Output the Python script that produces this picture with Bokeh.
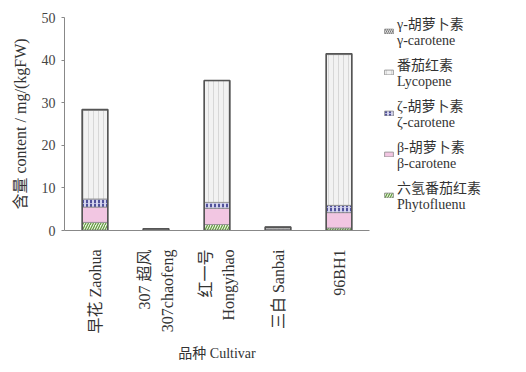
import math
from bokeh.plotting import figure
from bokeh.models import ColumnDataSource, FactorRange, Legend, LegendItem
from bokeh.transform import stack
from bokeh.embed import file_html
from bokeh.resources import INLINE

cultivars = ["早花 Zaohua", "307 超风\n307chaofeng", "红一号\nHongyihao", "三白 Sanbai", "96BH1"]
phytofluene = [1.9, 0.05, 1.4, 0.1, 0.6]
beta_carotene = [3.6, 0.05, 3.8, 0.2, 3.6]
zeta_carotene = [1.9, 0.05, 1.4, 0.1, 1.7]
lycopene = [20.8, 0.25, 28.6, 0.4, 35.4]
gamma_carotene = [0.2, 0.0, 0.0, 0.0, 0.2]
y_ticks = [0, 10, 20, 30, 40, 50]

series = ["phyto", "beta", "zeta", "lyco", "gamma"]
labels = {
    "gamma": "γ-胡萝卜素\nγ-carotene",
    "lyco": "番茄红素\nLycopene",
    "zeta": "ζ-胡萝卜素\nζ-carotene",
    "beta": "β-胡萝卜素\nβ-carotene",
    "phyto": "六氢番茄红素\nPhytofluenu",
}
styles = {
    "phyto": dict(fill_color="#eef4e4", hatch_pattern="/", hatch_color="#5f9a3c", hatch_scale=5, hatch_weight=1.2),
    "beta": dict(fill_color="#f2c6e2", hatch_pattern=" ", hatch_color="#f2c6e2"),
    "zeta": dict(fill_color="#d4d4ee", hatch_pattern=":", hatch_color="#26267e", hatch_scale=4, hatch_weight=1.5),
    "lyco": dict(fill_color="#f2f2f2", hatch_pattern="|", hatch_color="#c4c4c4", hatch_scale=5, hatch_weight=0.6),
    "gamma": dict(fill_color="#e6e6e6", hatch_pattern="\\", hatch_color="#777777", hatch_scale=4, hatch_weight=1),
}

totals = [a + b + c + d + e for a, b, c, d, e in zip(phytofluene, beta_carotene, zeta_carotene, lycopene, gamma_carotene)]
source = ColumnDataSource(dict(x=cultivars, phyto=phytofluene, beta=beta_carotene, zeta=zeta_carotene,
                               lyco=lycopene, gamma=gamma_carotene, total=totals))

FONT = "'Liberation Serif', 'Noto Sans CJK SC'"

p = figure(frame_width=305, frame_height=213, x_range=FactorRange(*cultivars, range_padding=0), y_range=(0, 50),
           output_backend="svg", toolbar_location=None,
           min_border_left=64, min_border_right=0, min_border_top=17, min_border_bottom=126)
p.outline_line_color = None
p.xgrid.visible = False
p.ygrid.visible = False

renderers = {}
for i, s in enumerate(series):
    r = p.vbar(x="x", bottom=stack(*series[:i]), top=stack(*series[:i + 1]), width=0.42, source=source,
               line_color="#8a8a8a", line_width=0.8, **styles[s])
    renderers[s] = r

p.vbar(x="x", bottom=0, top="total", width=0.42, source=source, fill_alpha=0,
       line_color="#555555", line_width=1.6)

legend = Legend(items=[LegendItem(label=labels[s], renderers=[renderers[s]]) for s in ["gamma", "lyco", "zeta", "beta", "phyto"]],
                location=(14, 15), padding=0, margin=0, spacing=0,
                border_line_color=None, background_fill_alpha=0,
                glyph_width=11, glyph_height=6, label_standoff=3,
                label_text_font=FONT, label_text_font_size="14px", label_text_color="#333333",
                label_text_line_height=1.3, label_height=41)
p.add_layout(legend, "right")

p.yaxis.ticker = y_ticks
p.yaxis.axis_label = "含量 content / mg/(kgFW)"
p.yaxis.axis_label_text_font = FONT
p.yaxis.axis_label_text_font_size = "16px"
p.yaxis.axis_label_text_font_style = "normal"
p.yaxis.axis_label_text_color = "#333333"
p.yaxis.axis_label_standoff = 10
p.yaxis.major_label_text_font = FONT
p.yaxis.major_label_text_font_size = "14px"
p.yaxis.major_label_text_color = "#444444"
p.yaxis.major_label_standoff = 6
p.yaxis.minor_tick_line_color = None
p.yaxis.major_tick_in = 0
p.yaxis.major_tick_out = 3

p.xaxis.axis_label = "品种 Cultivar"
p.xaxis.axis_label_text_font = FONT
p.xaxis.axis_label_text_font_size = "14px"
p.xaxis.axis_label_text_font_style = "normal"
p.xaxis.axis_label_text_color = "#333333"
p.xaxis.axis_label_standoff = 10
p.xaxis.major_label_orientation = math.pi / 2
p.xaxis.major_label_text_font = FONT
p.xaxis.major_label_text_font_size = "16px"
p.xaxis.major_label_text_color = "#333333"
p.xaxis.major_label_text_line_height = 1.35
p.xaxis.major_label_standoff = 13
p.xaxis.major_tick_line_color = None

for ax in (p.xaxis, p.yaxis):
    ax.axis_line_color = "#888888"
p.yaxis.major_tick_line_color = "#888888"

open("out.html", "w").write(file_html(p, INLINE))
